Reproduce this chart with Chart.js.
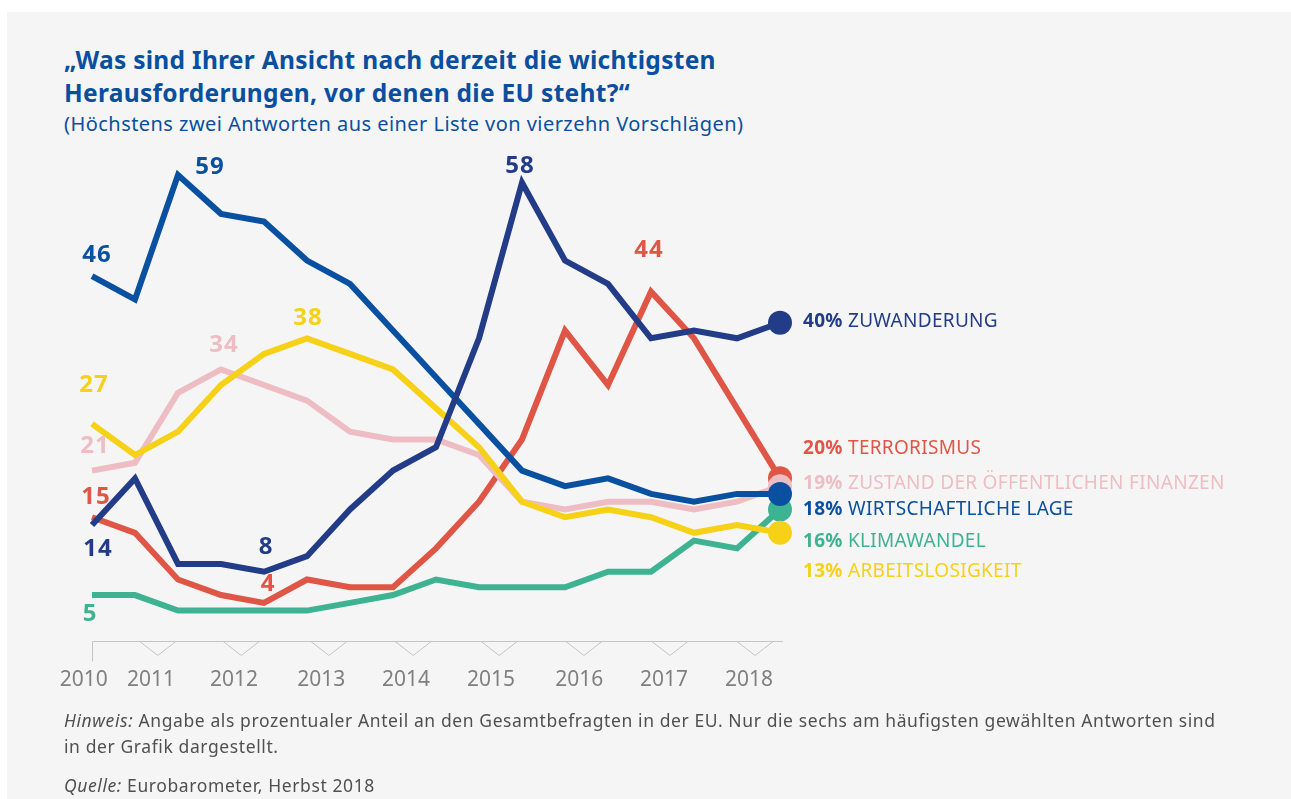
<!DOCTYPE html>
<html>
<head>
<meta charset="utf-8">
<script src="https://cdn.jsdelivr.net/npm/chart.js@4.4.1/dist/chart.umd.min.js"></script>
<style>
  body { margin: 0; background: #fff; width: 1291px; height: 799px; overflow: hidden; font-family: "Noto Sans", sans-serif; }
  #panel { position: absolute; left: 7px; top: 12px; width: 1284px; height: 787px; background: #f5f5f5; }
  #wrap { position: absolute; left: 0; top: 0; width: 1291px; height: 799px; }
  .title { position: absolute; left: 64px; top: 43px; font-size: 24.5px; letter-spacing: 0.3px; line-height: 33px; font-weight: 700; color: #0a4f9e; white-space: nowrap; }
  .sub { position: absolute; left: 64px; top: 113px; font-size: 20px; letter-spacing: 0.45px; line-height: 22px; color: #0a4f9e; white-space: nowrap; }
  .note { position: absolute; left: 64px; font-size: 17.5px; letter-spacing: 0.6px; line-height: 26px; color: #505050; white-space: nowrap; }
</style>
</head>
<body>
<div id="panel"></div>
<div class="title">„Was sind Ihrer Ansicht nach derzeit die wichtigsten<br>Herausforderungen, vor denen die EU steht?“</div>
<div class="sub">(Höchstens zwei Antworten aus einer Liste von vierzehn Vorschlägen)</div>
<div id="wrap"><canvas id="myChart"></canvas></div>
<div class="note" style="top:707px"><i>Hinweis:</i> Angabe als prozentualer Anteil an den Gesamtbefragten in der EU. Nur die sechs am häufigsten gewählten Antworten sind<br>in der Grafik dargestellt.</div>
<div class="note" style="top:772px"><i>Quelle:</i> Eurobarometer, Herbst 2018</div>
<script>
// Eurobarometer waves, autumn 2010 .. autumn 2018
var waves = ['H2010', 'F2011', 'H2011', 'F2012', 'H2012', 'F2013', 'H2013', 'F2014', 'H2014',
             'F2015', 'H2015', 'F2016', 'H2016', 'F2017', 'H2017', 'F2018', 'H2018'];
var years = ['2010', '2011', '2012', '2013', '2014', '2015', '2016', '2017', '2018'];

var names = ['ZUWANDERUNG', 'WIRTSCHAFTLICHE LAGE', 'ARBEITSLOSIGKEIT', 'KLIMAWANDEL',
             'ZUSTAND DER ÖFFENTLICHEN FINANZEN', 'TERRORISMUS'];

var zuwanderung   = [14, 20, 9, 9, 8, 10, 16, 21, 24, 38, 58, 48, 45, 38, 39, 38, 40];
var wirtschaft    = [46, 43, 59, 54, 53, 48, 45, 39, 33, 27, 21, 19, 20, 18, 17, 18, 18];
var arbeitslos    = [27, 23, 26, 32, 36, 38, 36, 34, 29, 24, 17, 15, 16, 15, 13, 14, 13];
var klima         = [5, 5, 3, 3, 3, 3, 4, 5, 7, 6, 6, 6, 8, 8, 12, 11, 16];
var finanzen      = [21, 22, 31, 34, 32, 30, 26, 25, 25, 23, 17, 16, 17, 17, 16, 17, 19];
var terrorismus   = [15, 13, 7, 5, 4, 7, 6, 6, 11, 17, 25, 39, 32, 44, 38, 29, 20];

var colors = ['#233c87', '#0a50a0', '#f6d117', '#3eb391', '#eebdc3', '#df5646'];
var series = [zuwanderung, wirtschaft, arbeitslos, klima, finanzen, terrorismus];

// where the year labels sit along the wave axis
var yearPos = [-0.19, 1.37, 3.3, 5.33, 7.3, 9.28, 11.33, 13.3, 15.28];
var notchPos = [1.53, 3.47, 5.51, 7.47, 9.47, 11.44, 13.44, 15.42];

// numbers written next to the lines: [series, wave, dx, dy]
var callouts = [
  [1, 0, 5, -21], [1, 2, 32, -8], [4, 3, 3, -24], [2, 5, 1, -20], [2, 0, 2, -39],
  [4, 0, 3, -24], [5, 0, 4, -20], [0, 0, 6, 24], [0, 4, 2, -25], [5, 4, 4, -19],
  [3, 0, -2, 19], [0, 10, -2, -17], [5, 13, -2, -41]
];
// vertical shift of the end labels from their end point
var endShift = [-1, 16, 39, 32, -3, -30];

var FONT = '"Noto Sans", sans-serif';

var decoPlugin = {
  id: 'deco',
  beforeDatasetsDraw: function (chart) {
    var c = chart.ctx, xs = chart.scales.x, ys = chart.scales.y;
    var y0 = Math.round(ys.getPixelForValue(-0.9)) + 0.5;
    var x0 = Math.round(xs.getPixelForValue(0)) + 0.5;
    var x1 = xs.getPixelForValue(16.07);
    c.save();
    c.strokeStyle = '#c4c4c4';
    c.lineWidth = 1;
    c.beginPath();
    c.moveTo(x0, y0 + 20);
    c.lineTo(x0, y0);
    c.lineTo(x1, y0);
    c.stroke();
    notchPos.forEach(function (p) {
      var cx = xs.getPixelForValue(p);
      c.beginPath();
      c.moveTo(cx - 18, y0);
      c.lineTo(cx, y0 + 14);
      c.lineTo(cx + 18, y0);
      c.stroke();
    });
    c.restore();
  },
  afterDatasetsDraw: function (chart) {
    var c = chart.ctx, xs = chart.scales.x, ys = chart.scales.y;
    c.save();
    c.textAlign = 'center';
    c.textBaseline = 'middle';
    c.letterSpacing = '1px';
    c.font = 'bold 24px ' + FONT;
    callouts.forEach(function (k) {
      var v = series[k[0]][k[1]];
      c.fillStyle = colors[k[0]];
      c.fillText(String(v), xs.getPixelForValue(k[1]) + k[2], ys.getPixelForValue(v) + k[3]);
    });
    c.textAlign = 'left';
    c.letterSpacing = '0.3px';
    var last = waves.length - 1;
    series.forEach(function (s, i) {
      var y = ys.getPixelForValue(s[last]) + endShift[i];
      var x = 803;
      var pct = s[last] + '%';
      c.fillStyle = colors[i];
      c.font = 'bold 19px ' + FONT;
      c.fillText(pct, x, y);
      x += c.measureText(pct + ' ').width;
      c.font = '19px ' + FONT;
      c.fillText(names[i], x, y);
    });
    c.restore();
  }
};

var ctx = document.getElementById('myChart').getContext('2d');
var chart = new Chart(ctx, {
  type: 'line',
  data: {
    datasets: series.map(function (s, i) {
      return {
        label: names[i],
        data: s.map(function (v, j) { return { x: j, y: v }; }),
        borderColor: colors[i],
        backgroundColor: colors[i],
        borderWidth: 6,
        borderJoinStyle: 'miter',
        tension: 0,
        order: i,
        pointRadius: function (p) { return p.dataIndex === waves.length - 1 ? 12 : 0; },
        pointHoverRadius: 0,
        pointBorderWidth: 0,
        pointBackgroundColor: colors[i]
      };
    })
  },
  options: {
    responsive: true,
    maintainAspectRatio: false,
    animation: false,
    events: [],
    layout: { padding: { left: 70.5, right: 489.5, top: 151.6, bottom: 91.7 } },
    plugins: { legend: { display: false }, tooltip: { enabled: false } },
    scales: {
      x: {
        type: 'linear', min: -0.5, max: 16.5,
        grid: { display: false, drawTicks: false },
        border: { display: false },
        afterBuildTicks: function (s) { s.ticks = yearPos.map(function (v) { return { value: v }; }); },
        afterFit: function (s) { s.height = 50; },
        ticks: {
          autoSkip: false, maxRotation: 0, padding: 10,
          color: '#808080', font: { family: FONT, size: 21 },
          callback: function (v, i) { return years[i]; }
        }
      },
      y: { display: false, min: -3, max: 62 }
    }
  },
  plugins: [decoPlugin]
});
</script>
</body>
</html>
